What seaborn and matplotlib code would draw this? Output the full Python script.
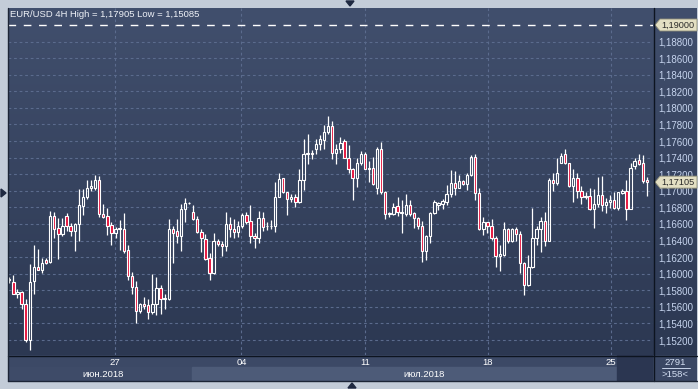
import numpy as np
import pandas as pd
import matplotlib
matplotlib.use("Agg")
import matplotlib.pyplot as plt
import matplotlib.transforms as mtransforms
from matplotlib.patches import Rectangle, Polygon
from matplotlib.lines import Line2D
from matplotlib.colors import LinearSegmentedColormap
import seaborn as sns

# ---------------- data (EUR/USD 4H) ----------------
opens = [1.1592, 1.1590, 1.1576, 1.1578, 1.1564, 1.1520, 1.1591, 1.1608, 1.1604, 1.1616,
         1.1614, 1.1670, 1.1655, 1.1648, 1.1670, 1.1658, 1.1652, 1.1660, 1.1682, 1.1692,
         1.1704, 1.1704, 1.1713, 1.1672, 1.1670, 1.1659, 1.1649, 1.1654, 1.1654, 1.1629,
         1.1597, 1.1584, 1.1555, 1.1564, 1.1562, 1.1554, 1.1564, 1.1583, 1.1570, 1.1570,
         1.1654, 1.1651, 1.1645, 1.1678, 1.1685, 1.1675, 1.1666, 1.1650, 1.1642, 1.1619,
         1.1601, 1.1640, 1.1636, 1.1633, 1.1660, 1.1654, 1.1650, 1.1658, 1.1671, 1.1664,
         1.1646, 1.1643, 1.1667, 1.1657, 1.1657, 1.1657, 1.1692, 1.1715, 1.1698, 1.1690,
         1.1692, 1.1686, 1.1713, 1.1745, 1.1746, 1.1750, 1.1756, 1.1761, 1.1771, 1.1778,
         1.1746, 1.1750, 1.1760, 1.1740, 1.1726, 1.1716, 1.1733, 1.1744, 1.1726, 1.1728,
         1.1704, 1.1751, 1.1699, 1.1672, 1.1672, 1.1682, 1.1673, 1.1672, 1.1683, 1.1673,
         1.1667, 1.1657, 1.1627, 1.1645, 1.1673, 1.1683, 1.1684, 1.1686, 1.1696, 1.1710,
         1.1704, 1.1712, 1.1708, 1.1719, 1.1741, 1.1697, 1.1654, 1.1662, 1.1658, 1.1643,
         1.1622, 1.1623, 1.1654, 1.1639, 1.1654, 1.1648, 1.1613, 1.1586, 1.1608, 1.1643,
         1.1654, 1.1664, 1.1640, 1.1713, 1.1709, 1.1734, 1.1744, 1.1733, 1.1706, 1.1716,
         1.1700, 1.1692, 1.1694, 1.1678, 1.1684, 1.1695, 1.1683, 1.1686, 1.1689, 1.1679,
         1.1697, 1.1700, 1.1678, 1.1730, 1.1737, 1.1733, 1.1713]
highs = [1.1596, 1.1598, 1.1582, 1.1579, 1.1569, 1.1612, 1.1635, 1.1630, 1.1619, 1.1619,
         1.1676, 1.1675, 1.1667, 1.1667, 1.1673, 1.1661, 1.1661, 1.1702, 1.1702, 1.1713,
         1.1713, 1.1719, 1.1718, 1.1684, 1.1679, 1.1663, 1.1656, 1.1665, 1.1673, 1.1635,
         1.1602, 1.1591, 1.1565, 1.1572, 1.1570, 1.1600, 1.1596, 1.1587, 1.1576, 1.1666,
         1.1658, 1.1666, 1.1684, 1.1691, 1.1686, 1.1683, 1.1670, 1.1654, 1.1648, 1.1625,
         1.1649, 1.1642, 1.1639, 1.1674, 1.1668, 1.1666, 1.1664, 1.1673, 1.1674, 1.1683,
         1.1649, 1.1676, 1.1675, 1.1663, 1.1665, 1.1711, 1.1721, 1.1716, 1.1699, 1.1696,
         1.1696, 1.1726, 1.1763, 1.1768, 1.1749, 1.1762, 1.1767, 1.1779, 1.17905, 1.1784,
         1.1756, 1.1765, 1.1763, 1.1755, 1.1727, 1.1739, 1.1748, 1.1747, 1.1736, 1.1741,
         1.1753, 1.1759, 1.1700, 1.1674, 1.1685, 1.1693, 1.1689, 1.1696, 1.1689, 1.1674,
         1.1668, 1.1664, 1.1647, 1.1675, 1.1689, 1.1686, 1.1690, 1.1707, 1.1725, 1.1724,
         1.1719, 1.1713, 1.1721, 1.1743, 1.1744, 1.1703, 1.1669, 1.1663, 1.1666, 1.1645,
         1.1635, 1.1663, 1.1655, 1.1655, 1.1656, 1.1651, 1.1614, 1.1623, 1.1679, 1.1657,
         1.1668, 1.1674, 1.1716, 1.1722, 1.1740, 1.1746, 1.1750, 1.1734, 1.1726, 1.1722,
         1.1706, 1.1698, 1.1703, 1.1702, 1.1717, 1.1718, 1.1691, 1.1695, 1.1699, 1.1699,
         1.1702, 1.1713, 1.1734, 1.1739, 1.1744, 1.1743, 1.1717]
lows = [1.1589, 1.1575, 1.1571, 1.1558, 1.1518, 1.15085, 1.1575, 1.1604, 1.1601, 1.1612,
        1.1613, 1.1643, 1.1618, 1.1646, 1.1651, 1.1646, 1.1628, 1.1639, 1.1671, 1.1690,
        1.1700, 1.1701, 1.1668, 1.1667, 1.1647, 1.1635, 1.1643, 1.1629, 1.1625, 1.1593,
        1.1575, 1.1540, 1.1553, 1.1558, 1.1545, 1.1551, 1.1550, 1.1552, 1.1558, 1.1568,
        1.1613, 1.1637, 1.1628, 1.1663, 1.1684, 1.1665, 1.1649, 1.1626, 1.1616, 1.1592,
        1.1600, 1.1634, 1.1621, 1.1627, 1.1644, 1.1643, 1.1644, 1.1655, 1.1660, 1.1637,
        1.1631, 1.1637, 1.1652, 1.1653, 1.1654, 1.1650, 1.1692, 1.1697, 1.1671, 1.1687,
        1.1681, 1.1685, 1.1701, 1.1732, 1.1738, 1.1744, 1.1749, 1.1750, 1.1769, 1.1738,
        1.1732, 1.1746, 1.1739, 1.1721, 1.1689, 1.1705, 1.1731, 1.1726, 1.1711, 1.1707,
        1.1696, 1.1696, 1.1666, 1.1669, 1.1671, 1.1670, 1.1649, 1.1670, 1.1670, 1.1655,
        1.1654, 1.1614, 1.1617, 1.1637, 1.1672, 1.1677, 1.1678, 1.1683, 1.1693, 1.1695,
        1.1703, 1.1707, 1.1701, 1.1718, 1.1689, 1.1653, 1.1647, 1.1649, 1.1641, 1.1608,
        1.1603, 1.1622, 1.1637, 1.1638, 1.1640, 1.1601, 1.1574, 1.1585, 1.1607, 1.1635,
        1.1626, 1.1633, 1.1640, 1.1700, 1.1707, 1.1733, 1.1732, 1.1705, 1.1687, 1.1691,
        1.1684, 1.1690, 1.1677, 1.1655, 1.1681, 1.1676, 1.1673, 1.1679, 1.1678, 1.1677,
        1.1696, 1.1665, 1.1678, 1.1726, 1.1731, 1.1709, 1.1694]
closes = [1.1594, 1.1576, 1.1578, 1.1564, 1.1520, 1.1590, 1.1608, 1.1605, 1.1613, 1.1613,
          1.1670, 1.1654, 1.1648, 1.1658, 1.1657, 1.1652, 1.1660, 1.1683, 1.1692, 1.1704,
          1.1706, 1.1713, 1.1672, 1.1669, 1.1658, 1.1649, 1.1654, 1.1655, 1.1628, 1.1597,
          1.1584, 1.1555, 1.1564, 1.1561, 1.1554, 1.1564, 1.1583, 1.1570, 1.1571, 1.1654,
          1.1649, 1.1645, 1.1678, 1.1685, 1.1685, 1.1666, 1.1650, 1.1643, 1.1618, 1.1601,
          1.1640, 1.1636, 1.1633, 1.1660, 1.1654, 1.1650, 1.1658, 1.1671, 1.1663, 1.1645,
          1.1643, 1.1667, 1.1656, 1.1658, 1.1658, 1.1692, 1.1714, 1.1698, 1.1690, 1.1692,
          1.1686, 1.1713, 1.1745, 1.1746, 1.1745, 1.1756, 1.1762, 1.1771, 1.1778, 1.1746,
          1.1750, 1.1758, 1.1740, 1.1726, 1.1716, 1.1733, 1.1744, 1.1726, 1.1728, 1.1708,
          1.1751, 1.1699, 1.1672, 1.1673, 1.1681, 1.1674, 1.1675, 1.1683, 1.1672, 1.1667,
          1.1657, 1.1627, 1.1646, 1.1673, 1.1687, 1.1685, 1.1688, 1.1696, 1.1710, 1.1704,
          1.1712, 1.1708, 1.1719, 1.1741, 1.1697, 1.1654, 1.1662, 1.1658, 1.1643, 1.1622,
          1.1624, 1.1654, 1.1639, 1.1654, 1.1648, 1.1613, 1.1586, 1.1608, 1.1643, 1.1654,
          1.1664, 1.1640, 1.1713, 1.1709, 1.1722, 1.1742, 1.1733, 1.1706, 1.1716, 1.1700,
          1.1692, 1.1694, 1.1678, 1.1684, 1.1695, 1.1683, 1.1687, 1.1689, 1.1679, 1.1698,
          1.1700, 1.1678, 1.1728, 1.1736, 1.1732, 1.1712, 1.17105]

price_ticks = [1.152, 1.154, 1.156, 1.158, 1.160, 1.162, 1.164, 1.166, 1.168, 1.170,
               1.172, 1.174, 1.176, 1.178, 1.180, 1.182, 1.184, 1.186, 1.188]
day_labels = ["27", "04", "11", "18", "25"]
day_bar_pos = [25.8, 56.8, 87.0, 117.1, 147.2]        # bar index of day boundary
month_labels = ["июн.2018", "июл.2018"]
month_label_pos = [22.9, 101.5]
month_bounds = [44.7, 148.7]                           # june|july , july|dark box
title_text = "EUR/USD 4H High = 1,17905 Low = 1,15085"
level_price = 1.19000
last_price = 1.17105
bars_total = "2791"
bars_shown = ">158<"

df = pd.DataFrame({"o": opens, "h": highs, "l": lows, "c": closes})
df["i"] = np.arange(len(df))
df["top"] = df[["o", "c"]].max(axis=1)
df["bot"] = df[["o", "c"]].min(axis=1)
df["up"] = df["c"] >= df["o"]

# ---------------- style ----------------
sns.set_style("dark", rc={"axes.edgecolor": "none"})
plt.rcParams["font.family"] = ["Liberation Sans", "DejaVu Sans"]

W, H = 698, 389
fig = plt.figure(figsize=(W / 100, H / 100), dpi=100)
fig.patch.set_facecolor("#c3ccd8")

def ax_px(x0, y0, x1, y1):
    return fig.add_axes([x0 / W, 1 - y1 / H, (x1 - x0) / W, (y1 - y0) / H])

grad = LinearSegmentedColormap.from_list("bg", ["#414f6d", "#2c3852"])
gimg = np.linspace(0, 1, 256).reshape(-1, 1)

XL = (-0.32, 157.5)
YL = (1.15020, 1.19205)

# price panel (background only, drawn first)
pax = ax_px(653, 8, 697, 355)
pax.imshow(gimg, cmap=grad, aspect="auto", extent=[0, 1, 0, 1], transform=pax.transAxes, zorder=0)
pax.set_xlim(0, 1); pax.set_ylim(0, 1); pax.axis("off")

# main chart
ax = ax_px(8, 8, 653, 355)
ax.imshow(gimg, cmap=grad, aspect="auto", extent=[0, 1, 0, 1], transform=ax.transAxes, zorder=0)
ax.set_xlim(*XL); ax.set_ylim(*YL)
ax.set_axisbelow(True)
ax.set_yticks(price_ticks)
ax.set_xticks(day_bar_pos)
ax.grid(True, color="#5b6b8d", linestyle=(0, (2.5, 2.5)), linewidth=0.8)
ax.yaxis.tick_right()
ax.set_yticklabels([f"{v:.5f}".replace(".", ",") for v in price_ticks])
ax.tick_params(axis="y", length=0, pad=4, labelsize=7, labelcolor="#c6d4ee")
ax.tick_params(axis="x", length=0, labelbottom=False)
for s in ax.spines.values():
    s.set_visible(False)

red = "#e5123c"
wick_kw = dict(color="white", linewidth=0.9, zorder=3)
ax.vlines(df["i"], df["top"], df["h"], **wick_kw)
ax.vlines(df["i"], df["l"], df["bot"], **wick_kw)
heights = (df["top"] - df["bot"]).clip(lower=0.00003)
ax.bar(df["i"], heights, bottom=df["bot"], width=0.58,
       color=np.where(df["up"], "none", red), edgecolor="white", linewidth=0.8, zorder=4)

# dashed level line
ax.axhline(level_price, color="white", linewidth=1.0, dashes=(5.5, 5.5), zorder=5)

ax.text(0.003, 0.98, title_text, transform=ax.transAxes, ha="left", va="center",
        fontsize=6.8, color="#eef1f7", zorder=6)

# price tags
ppx = (YL[1] - YL[0]) / 347.0
blend = mtransforms.blended_transform_factory(ax.transAxes, ax.transData)
def tag(price):
    x_tip = 1 + 2 / 645
    x_box = 1 + 7 / 645
    x_end = 1 + 44 / 645
    hh = 6 * ppx
    poly = Polygon([(x_tip, price), (x_box, price + hh), (x_end, price + hh),
                    (x_end, price - hh), (x_box, price - hh)], closed=True,
                   facecolor="#e3dfc3", edgecolor="#8f8e78", linewidth=0.6,
                   transform=blend, clip_on=False, zorder=10)
    ax.add_patch(poly)
    ax.text(1 + 8 / 645, price, f"{price:.5f}".replace(".", ","), transform=blend,
            ha="left", va="center", fontsize=6.6, color="#2a2a2a", clip_on=False, zorder=11)
tag(level_price)
tag(last_price)

# date panel
dax = ax_px(8, 355, 653, 381)
dax.set_xlim(*XL); dax.set_ylim(0, 1); dax.axis("off")
split = 14 / 26
dax.add_patch(Rectangle((XL[0], split), XL[1] - XL[0], 1 - split, color="#3c4966", zorder=0))
dax.add_patch(Rectangle((XL[0], 0), month_bounds[0] - XL[0], split, color="#3e4b68", zorder=0))
dax.add_patch(Rectangle((month_bounds[0], 0), month_bounds[1] - month_bounds[0], split,
                        color="#4d5b78", zorder=0))
dax.add_patch(Rectangle((month_bounds[1], 0), XL[1] - month_bounds[1], 1, color="#2b3651", zorder=1))
for lab, pos in zip(day_labels, day_bar_pos):
    dax.text(pos, 0.70, lab, ha="center", va="center", fontsize=6.8, color="white", zorder=3)
for lab, pos in zip(month_labels, month_label_pos):
    dax.text(pos, 0.25, lab, ha="center", va="center", fontsize=6.8, color="white", zorder=3)

# corner panel
cax = ax_px(653, 355, 697, 381)
cax.set_xlim(0, 1); cax.set_ylim(0, 1); cax.axis("off")
cax.add_patch(Rectangle((0, 0), 1, 1, color="#3a4764", zorder=0))
cax.text(0.5, 0.73, bars_total, ha="center", va="center", fontsize=6.8, color="#d3def2")
cax.plot([0.2, 0.84], [0.5, 0.5], color="#c8d4ea", linewidth=0.7)
cax.text(0.5, 0.24, bars_shown, ha="center", va="center", fontsize=6.8, color="#d3def2")

# separators and frame
def fline(x0, y0, x1, y1, c="#0d1420", lw=1.0):
    fig.add_artist(Line2D([x0 / W, x1 / W], [1 - y0 / H, 1 - y1 / H], color=c, linewidth=lw,
                          transform=fig.transFigure))
fline(653.5, 8, 653.5, 381)
fline(8, 355.5, 697, 355.5)
fline(8, 8, 8, 381, c="#1c2536")
fline(8, 381, 697, 381, c="#1c2536")

def ftri(pts, c="#1e2840"):
    fig.add_artist(Polygon([(x / W, 1 - y / H) for x, y in pts], closed=True, color=c,
                           transform=fig.transFigure))
ftri([(346, 1), (354, 1), (350, 6)])
ftri([(348, 388), (356, 388), (352, 383)])
ftri([(1, 189), (1, 197), (6, 193)])

fig.savefig("out.png", dpi=100, facecolor=fig.get_facecolor())
